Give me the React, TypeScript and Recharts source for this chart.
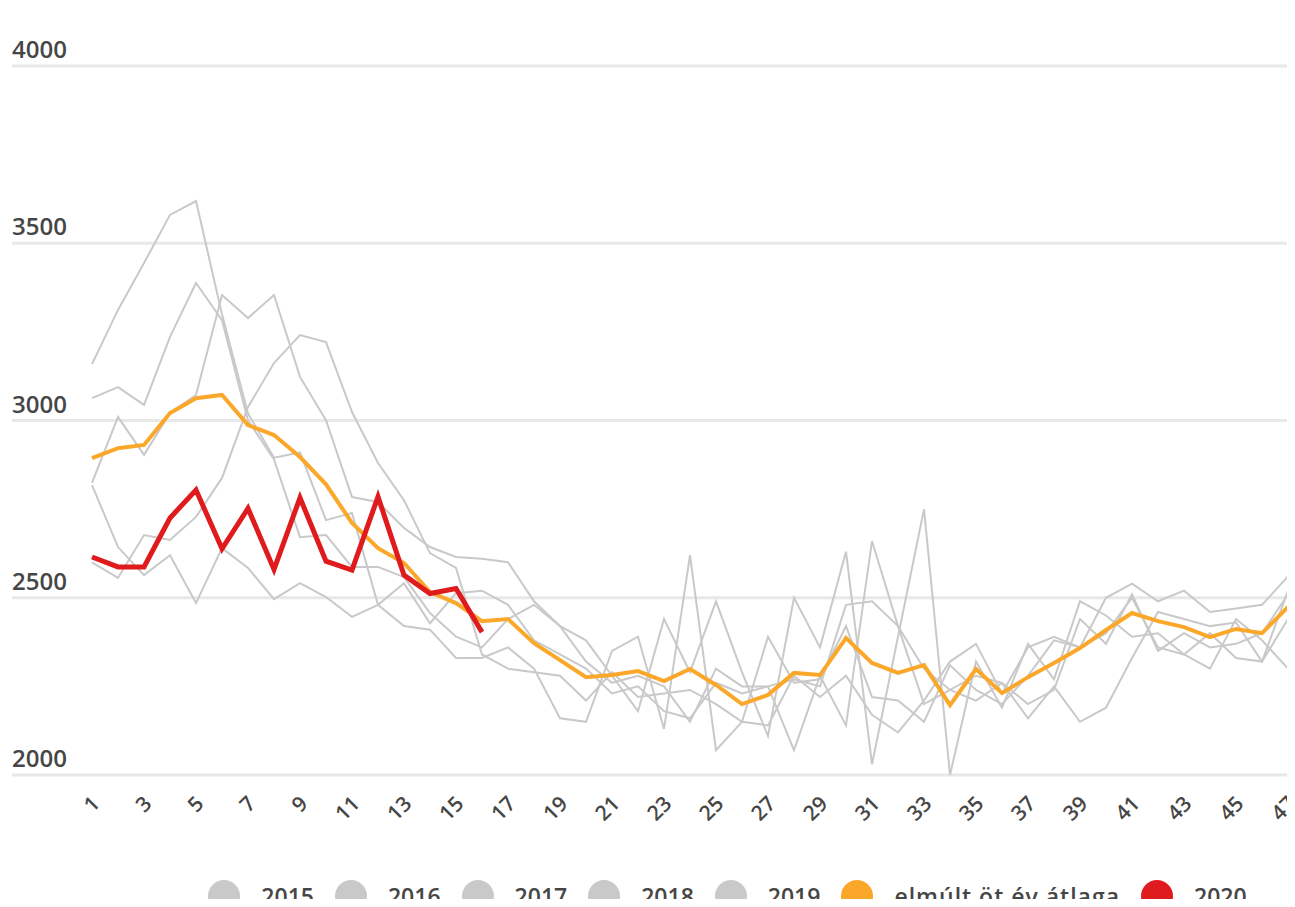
import { LineChart, Line, XAxis, YAxis, CartesianGrid, Legend } from "recharts";

// weekly values, weeks 1-53 on the axis (only 1-47 visible)
const weeks = [
  1, 2, 3, 4, 5, 6, 7, 8, 9, 10, 11, 12, 13, 14, 15, 16, 17, 18, 19, 20, 21, 22, 23, 24, 25, 26,
  27, 28, 29, 30, 31, 32, 33, 34, 35, 36, 37, 38, 39, 40, 41, 42, 43, 44, 45, 46, 47, 48, 49, 50,
  51, 52, 53,
];

const y2015 = [
  3159, 3312, 3444, 3580, 3619, 3300, 3020, 2895, 2910, 2719, 2739, 2480, 2420, 2410, 2330, 2330,
  2360, 2300, 2160, 2150, 2350, 2390, 2130, 2620, 2070, 2150, 2390, 2260, 2270, 2420, 2220, 2210,
  2150, 2310, 2240, 2200, 2280, 2380, 2360, 2400, 2500, 2360, 2340, 2300, 2440, 2380, 2300,
];
const y2016 = [
  3063, 3094, 3044, 3236, 3388, 3283, 3000, 2890, 2671, 2677, 2587, 2587, 2558, 2457, 2390, 2360,
  2440, 2480, 2420, 2380, 2280, 2180, 2440, 2290, 2490, 2290, 2110, 2500, 2360, 2630, 2030, 2390,
  2750, 2000, 2320, 2190, 2370, 2270, 2490, 2450, 2390, 2400, 2340, 2400, 2330, 2320, 2520,
];
const y2017 = [
  2824, 3010, 2903, 3021, 3072, 3354, 3289, 3354, 3123, 3001, 2784, 2770, 2697, 2643, 2615, 2610,
  2600, 2490, 2420, 2320, 2260, 2280, 2250, 2150, 2300, 2250, 2250, 2070, 2280, 2140, 2660, 2420,
  2200, 2240, 2210, 2260, 2160, 2250, 2150, 2190, 2330, 2460, 2440, 2420, 2430, 2320, 2440,
];
const y2018 = [
  2600, 2556, 2677, 2663, 2728, 2838, 3038, 3162, 3241, 3221, 3024, 2880, 2775, 2626, 2584, 2340,
  2300, 2290, 2280, 2210, 2290, 2220, 2230, 2240, 2200, 2150, 2140, 2280, 2220, 2280, 2170, 2120,
  2210, 2320, 2370, 2230, 2360, 2390, 2360, 2500, 2540, 2490, 2520, 2460, 2470, 2480, 2560,
];
const y2019 = [
  2818, 2643, 2564, 2620, 2485, 2640, 2584, 2496, 2541, 2502, 2446, 2480, 2541, 2428, 2513, 2520,
  2480, 2380, 2340, 2300, 2230, 2250, 2180, 2160, 2260, 2230, 2250, 2270, 2250, 2480, 2490, 2420,
  2300, 2240, 2280, 2260, 2200, 2240, 2440, 2370, 2510, 2350, 2400, 2360, 2370, 2400, 2510,
];
const avgFiveYears = [
  2894, 2922, 2931, 3021, 3063, 3072, 2987, 2959, 2897, 2820, 2711, 2640, 2598, 2516, 2485, 2434,
  2440, 2372, 2324, 2276, 2282, 2293, 2265, 2299, 2254, 2200, 2226, 2288, 2282, 2386, 2316, 2288,
  2310, 2197, 2299, 2231, 2276, 2316, 2358, 2409, 2457, 2434, 2417, 2389, 2412, 2400, 2474,
];
const y2020 = [
  2615, 2587, 2587, 2725, 2804, 2638, 2752, 2580, 2782, 2603, 2578, 2785, 2564, 2512, 2526, 2403,
];

const yTicks = [2000, 2500, 3000, 3500, 4000];

const GRAY = "#c9c9c9";
const TEXT = "#464646";
const FONT = "'Open Sans', 'Noto Sans', sans-serif";

const series = [
  { key: "2015", values: y2015, color: GRAY, width: 2 },
  { key: "2016", values: y2016, color: GRAY, width: 2 },
  { key: "2017", values: y2017, color: GRAY, width: 2 },
  { key: "2018", values: y2018, color: GRAY, width: 2 },
  { key: "2019", values: y2019, color: GRAY, width: 2 },
  { key: "elmúlt öt év átlaga", values: avgFiveYears, color: "#fba82a", width: 4 },
  { key: "2020", values: y2020, color: "#e01b1e", width: 5 },
];

const data = weeks.map((week, i) => {
  const row: Record<string, number | null> = { week };
  series.forEach((s) => {
    row[s.key] = i < s.values.length ? s.values[i] : null;
  });
  return row;
});

// y labels sit above the gridline, left aligned at the plot edge
const YTick = ({ y, payload }: any) => (
  <text x={4} y={y - 8} textAnchor="start" fill={TEXT} fontSize={24} fontWeight={600} fontFamily={FONT}>
    {payload.value}
  </text>
);

const XTick = ({ x, y, payload }: any) => (
  <g transform={`translate(${x + 9},${y + 22})`}>
    <text textAnchor="end" transform="rotate(-45)" fill={TEXT} fontSize={21} fontWeight={600} fontFamily={FONT}>
      {payload.value}
    </text>
  </g>
);

const LegendBox = () => (
  <div
    style={{
      height: 40,
      display: "flex",
      justifyContent: "center",
      alignItems: "center",
      gap: 21,
      fontFamily: FONT,
      fontSize: 23,
      fontWeight: 600,
      color: TEXT,
    }}
  >
    {series.map((s) => (
      <div key={s.key} style={{ display: "flex", alignItems: "center" }}>
        <span
          style={{ width: 32, height: 32, borderRadius: "50%", background: s.color, marginRight: 21 }}
        />
        <span style={{ letterSpacing: s.key.length > 4 ? 1 : 0, whiteSpace: "nowrap" }}>{s.key}</span>
      </div>
    ))}
  </div>
);

export default function App() {
  return (
    <div style={{ width: 1284, height: 899, overflow: "hidden", marginBottom: -8 }}>
      <LineChart width={1440} height={930} data={data} margin={{ top: 58, right: 4, bottom: 22, left: 3 }}>
        <CartesianGrid vertical={false} stroke="#e8e8e8" strokeWidth={3} />
        <XAxis
          dataKey="week"
          interval={1}
          axisLine={false}
          tickLine={false}
          height={101}
          padding={{ left: 80, right: 0 }}
          tick={<XTick />}
        />
        <YAxis
          domain={[2000, 4000]}
          ticks={yTicks}
          width={1}
          axisLine={false}
          tickLine={false}
          tick={<YTick />}
        />
        <Legend verticalAlign="bottom" content={<LegendBox />} />
        {series.map((s) => (
          <Line
            key={s.key}
            dataKey={s.key}
            stroke={s.color}
            strokeWidth={s.width}
            dot={false}
            activeDot={false}
            isAnimationActive={false}
          />
        ))}
      </LineChart>
    </div>
  );
}
